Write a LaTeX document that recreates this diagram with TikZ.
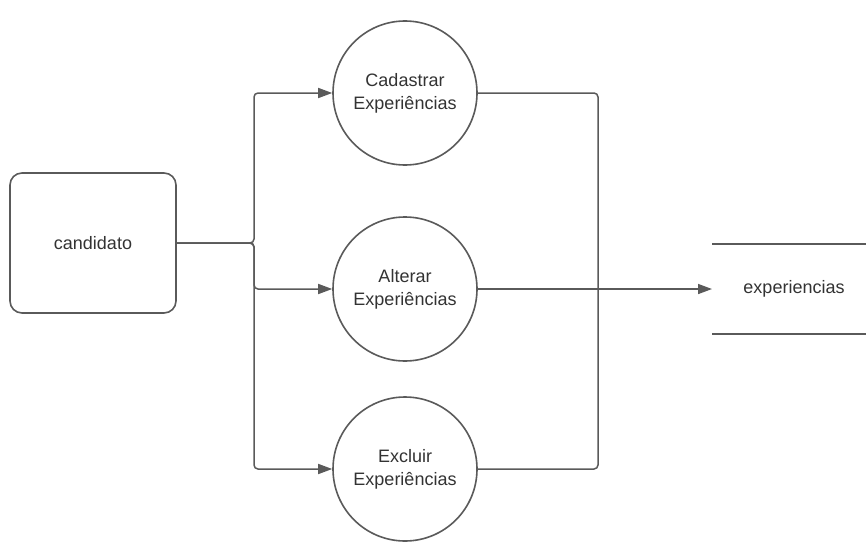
\documentclass[tikz,border=0pt]{standalone}
\usepackage{fontspec}
\setmainfont{Liberation Sans}
\usetikzlibrary{arrows.meta}
\definecolor{ln}{HTML}{5A5A5A}
\definecolor{tx}{HTML}{333333}
\begin{document}
\begin{tikzpicture}[x=1pt,y=-1pt,
  every node/.style={font=\fontsize{18}{23}\selectfont, text=tx},
  proc/.style={circle, draw=ln, line width=1.6pt, minimum size=144pt, inner sep=0pt, align=center},
  ent/.style={draw=ln, line width=1.6pt, rounded corners=12pt, minimum width=166pt, minimum height=140pt},
  flow/.style={draw=ln, line width=1.5pt, rounded corners=4pt, -{Triangle[length=14pt,width=10pt]}},
  plain/.style={draw=ln, line width=1.5pt, rounded corners=4pt}]
\useasboundingbox (0,0) rectangle (866,543);
\node[ent] (cand) at (93,243) {candidato};
\node[proc] (p1) at (405,93) {Cadastrar\\Experiências};
\node[proc] (p2) at (405,289) {Alterar\\Experiências};
\node[proc] (p3) at (405,469) {Excluir\\Experiências};
\node (store) at (794,289) {experiencias};
\coordinate (sl) at (712,289);
\coordinate (j1) at (254,243);
\coordinate (j2) at (598,289);
\draw[ln, line width=1.6pt] (712,244) -- (866,244);
\draw[ln, line width=1.6pt] (712,334) -- (866,334);
\path[flow] (cand.east) -- (j1) |- (p1.west);
\path[flow] (cand.east) -- (j1) |- (p2.west);
\path[flow] (cand.east) -- (j1) |- (p3.west);
\path[plain] (p1.east) -| (j2);
\path[plain] (p3.east) -| (j2);
\path[flow] (p2.east) -- (sl);
\end{tikzpicture}
\end{document}
